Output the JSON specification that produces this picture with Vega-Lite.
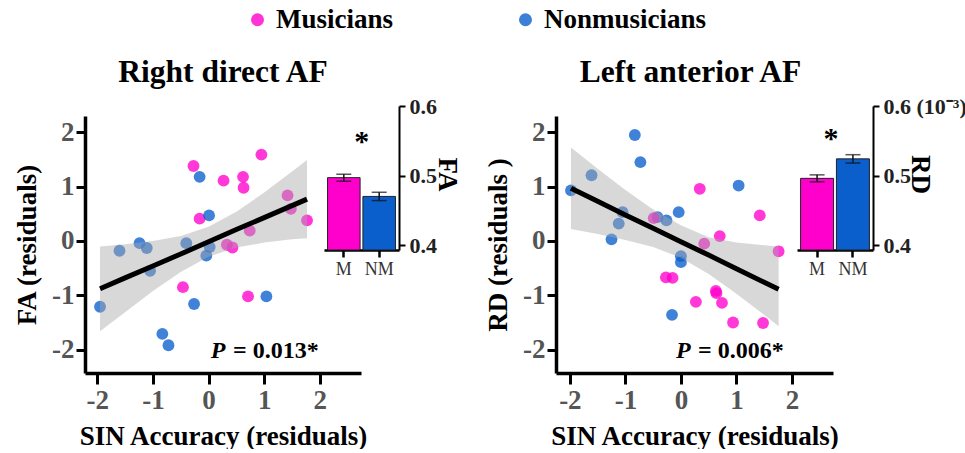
{
  "$schema": "https://vega.github.io/schema/vega-lite/v6.json",
  "background": "white",
  "padding": {"left": 13, "top": 6, "right": 0, "bottom": 0},
  "autosize": {"type": "pad"},
  "config": {
    "font": "Liberation Serif",
    "view": {"stroke": null},
    "axis": {"grid": false, "labelFont": "Liberation Serif", "titleFont": "Liberation Serif"},
    "text": {"font": "Liberation Serif"},
    "title": {"font": "Liberation Serif"}
  },
  "datasets": {
    "pts1": [
      {"x": -0.27, "y": 1.38, "group": "Musicians"},
      {"x": 0.27, "y": 1.11, "group": "Musicians"},
      {"x": 0.62, "y": 1.18, "group": "Musicians"},
      {"x": 0.63, "y": 0.98, "group": "Musicians"},
      {"x": 0.95, "y": 1.59, "group": "Musicians"},
      {"x": 1.42, "y": 0.84, "group": "Musicians"},
      {"x": 1.48, "y": 0.59, "group": "Musicians"},
      {"x": 1.77, "y": 0.38, "group": "Musicians"},
      {"x": -0.16, "y": 0.41, "group": "Musicians"},
      {"x": 0.74, "y": 0.19, "group": "Musicians"},
      {"x": 0.33, "y": -0.07, "group": "Musicians"},
      {"x": 0.43, "y": -0.12, "group": "Musicians"},
      {"x": -0.46, "y": -0.85, "group": "Musicians"},
      {"x": 0.71, "y": -1.02, "group": "Musicians"},
      {"x": -1.95, "y": -1.21, "group": "Nonmusicians"},
      {"x": -1.6, "y": -0.18, "group": "Nonmusicians"},
      {"x": -1.24, "y": -0.04, "group": "Nonmusicians"},
      {"x": -1.11, "y": -0.13, "group": "Nonmusicians"},
      {"x": -1.05, "y": -0.55, "group": "Nonmusicians"},
      {"x": -0.4, "y": -0.04, "group": "Nonmusicians"},
      {"x": -0.16, "y": 1.18, "group": "Nonmusicians"},
      {"x": 0.01, "y": 0.47, "group": "Nonmusicians"},
      {"x": 0.02, "y": -0.11, "group": "Nonmusicians"},
      {"x": -0.04, "y": -0.27, "group": "Nonmusicians"},
      {"x": -0.26, "y": -1.16, "group": "Nonmusicians"},
      {"x": -0.83, "y": -1.71, "group": "Nonmusicians"},
      {"x": -0.72, "y": -1.92, "group": "Nonmusicians"},
      {"x": 1.04, "y": -1.02, "group": "Nonmusicians"}
    ],
    "pts2": [
      {"x": -1.98, "y": 0.93, "group": "Nonmusicians"},
      {"x": -1.61, "y": 1.21, "group": "Nonmusicians"},
      {"x": -0.83, "y": 1.95, "group": "Nonmusicians"},
      {"x": -0.73, "y": 1.45, "group": "Nonmusicians"},
      {"x": -1.05, "y": 0.53, "group": "Nonmusicians"},
      {"x": -1.12, "y": 0.32, "group": "Nonmusicians"},
      {"x": -1.25, "y": 0.03, "group": "Nonmusicians"},
      {"x": -0.42, "y": 0.44, "group": "Nonmusicians"},
      {"x": -0.26, "y": 0.38, "group": "Nonmusicians"},
      {"x": -0.04, "y": 0.53, "group": "Nonmusicians"},
      {"x": 0.0, "y": -0.28, "group": "Nonmusicians"},
      {"x": 0.0, "y": -0.39, "group": "Nonmusicians"},
      {"x": -0.16, "y": -1.36, "group": "Nonmusicians"},
      {"x": 1.04, "y": 1.02, "group": "Nonmusicians"},
      {"x": -0.49, "y": 0.42, "group": "Musicians"},
      {"x": 0.34, "y": 0.96, "group": "Musicians"},
      {"x": 0.42, "y": -0.05, "group": "Musicians"},
      {"x": 0.7, "y": 0.09, "group": "Musicians"},
      {"x": 1.42, "y": 0.47, "group": "Musicians"},
      {"x": 1.76, "y": -0.19, "group": "Musicians"},
      {"x": -0.27, "y": -0.67, "group": "Musicians"},
      {"x": -0.15, "y": -0.68, "group": "Musicians"},
      {"x": 0.27, "y": -1.12, "group": "Musicians"},
      {"x": 0.63, "y": -0.92, "group": "Musicians"},
      {"x": 0.64, "y": -0.96, "group": "Musicians"},
      {"x": 0.74, "y": -1.14, "group": "Musicians"},
      {"x": 0.94, "y": -1.5, "group": "Musicians"},
      {"x": 1.48, "y": -1.51, "group": "Musicians"}
    ],
    "band1": [
      {"x": -1.95, "fit": -0.88, "lo": -1.66, "hi": -0.1},
      {"x": -1.5, "fit": -0.68, "lo": -1.31, "hi": -0.06},
      {"x": -1.0, "fit": -0.46, "lo": -0.92, "hi": 0.0},
      {"x": -0.5, "fit": -0.24, "lo": -0.57, "hi": 0.09},
      {"x": 0.0, "fit": -0.015, "lo": -0.29, "hi": 0.26},
      {"x": 0.5, "fit": 0.21, "lo": -0.12, "hi": 0.54},
      {"x": 1.0, "fit": 0.43, "lo": -0.03, "hi": 0.89},
      {"x": 1.5, "fit": 0.65, "lo": 0.03, "hi": 1.28},
      {"x": 1.77, "fit": 0.77, "lo": 0.05, "hi": 1.49}
    ],
    "band2": [
      {"x": -1.98, "fit": 0.97, "lo": 0.22, "hi": 1.72},
      {"x": -1.5, "fit": 0.73, "lo": 0.13, "hi": 1.33},
      {"x": -1.0, "fit": 0.48, "lo": 0.02, "hi": 0.94},
      {"x": -0.5, "fit": 0.235, "lo": -0.11, "hi": 0.58},
      {"x": 0.0, "fit": -0.014, "lo": -0.31, "hi": 0.29},
      {"x": 0.5, "fit": -0.26, "lo": -0.61, "hi": 0.07},
      {"x": 1.0, "fit": -0.51, "lo": -0.97, "hi": -0.03},
      {"x": 1.5, "fit": -0.76, "lo": -1.36, "hi": -0.08},
      {"x": 1.76, "fit": -0.89, "lo": -1.57, "hi": -0.1}
    ],
    "bars1": [
      {"group": "Musicians", "mean": 0.497, "lo": 0.492, "hi": 0.502},
      {"group": "Nonmusicians", "mean": 0.47, "lo": 0.464, "hi": 0.476}
    ],
    "bars2": [
      {"group": "Musicians", "mean": 0.496, "lo": 0.491, "hi": 0.501},
      {"group": "Nonmusicians", "mean": 0.524, "lo": 0.518, "hi": 0.53}
    ]
  },
  "bounds": "flush",
  "spacing": 157,
  "hconcat": [
    {
      "width": 314,
      "height": 257,
      "title": {"text": "Right direct AF", "fontSize": 31.5, "fontWeight": "bold", "color": "black", "frame": "group", "anchor": "middle", "dx": -19, "dy": 45, "offset": 27, "baseline": "alphabetic"},
      "layer": [
        {
          "layer": [
            {
              "data": {"name": "pts1"},
              "mark": {"type": "circle", "size": 140, "opacity": 0.78},
              "encoding": {
                "x": {"field": "x", "type": "quantitative",
                  "scale": {"domain": [-2.22, 2.74], "range": [0, 276], "nice": false, "zero": false},
                  "axis": {"orient": "bottom", "values": [-2, -1, 0, 1, 2], "labelExpr": "'' + datum.value", "title": "SIN Accuracy (residuals)", "titleFontSize": 27, "titleFontWeight": "bold", "titleColor": "black", "titlePadding": 10,
                    "labelFontSize": 27, "labelFontWeight": "bold", "labelColor": "#555555", "labelPadding": 3, "labelFlush": false, "labelOverlap": false,
                    "tickSize": 11, "tickWidth": 3, "tickColor": "black", "domainWidth": 3.5, "domainColor": "black"}},
                "y": {"field": "y", "type": "quantitative",
                  "scale": {"domain": [-2.43, 2.3], "nice": false, "zero": false},
                  "axis": {"orient": "left", "values": [-2, -1, 0, 1, 2], "labelExpr": "'' + datum.value", "title": "FA (residuals)", "titleFontSize": 27, "titleFontWeight": "bold", "titleColor": "black", "titlePadding": 10,
                    "labelFontSize": 27, "labelFontWeight": "bold", "labelColor": "#555555", "labelPadding": 2, "labelFlush": false, "labelOverlap": false,
                    "tickSize": 9, "tickWidth": 3, "tickColor": "black", "domainWidth": 3.5, "domainColor": "black"}},
                "color": {"field": "group", "type": "nominal",
                  "scale": {"domain": ["Musicians", "Nonmusicians"], "range": ["#FF00CC", "#0A5FCC"]},
                  "legend": {"orient": "none", "legendX": 159, "legendY": -110, "direction": "horizontal", "title": null,
                    "symbolType": "circle", "symbolSize": 170, "symbolOpacity": 0.8, "symbolStrokeWidth": 0,
                    "labelFontSize": 27, "labelFontWeight": "bold", "labelColor": "black", "labelFont": "Liberation Serif", "labelOffset": 5, "labelLimit": 400, "columnPadding": 118}}
              }
            },
            {
              "data": {"name": "band1"},
              "mark": {"type": "area", "color": "#a8a8a8", "opacity": 0.45},
              "encoding": {
                "x": {"field": "x", "type": "quantitative"},
                "y": {"field": "lo", "type": "quantitative"},
                "y2": {"field": "hi"}
              }
            },
            {
              "data": {"name": "band1"},
              "mark": {"type": "line", "color": "black", "strokeWidth": 5},
              "encoding": {
                "x": {"field": "x", "type": "quantitative"},
                "y": {"field": "fit", "type": "quantitative"}
              }
            },
            {
              "data": {"values": [{"t": "P"}]},
              "mark": {"type": "text", "fontSize": 24, "fontWeight": "bold", "fontStyle": "italic", "align": "left", "baseline": "alphabetic", "color": "black"},
              "encoding": {
                "x": {"datum": 0.04, "type": "quantitative"},
                "y": {"datum": -2.15, "type": "quantitative"},
                "text": {"field": "t"}
              }
            },
            {
              "data": {"values": [{"t": "= 0.013*"}]},
              "mark": {"type": "text", "fontSize": 24, "fontWeight": "bold", "align": "left", "baseline": "alphabetic", "color": "black"},
              "encoding": {
                "x": {"datum": 0.44, "type": "quantitative"},
                "y": {"datum": -2.15, "type": "quantitative"},
                "text": {"field": "t"}
              }
            }
          ]
        },
        {
          "layer": [
            {
              "data": {"name": "bars1"},
              "mark": {"type": "bar", "stroke": "#222222", "strokeWidth": 1},
              "encoding": {
                "x": {"field": "group", "type": "nominal",
                  "scale": {"range": [239, 314], "paddingInner": 0.08, "paddingOuter": 0.1},
                  "axis": {"orient": "bottom", "offset": -123, "title": null, "labelAngle": 0, "labelExpr": "datum.value == 'Musicians' ? 'M' : 'NM'",
                    "labelFontSize": 18, "labelFontWeight": "normal", "labelColor": "#333333", "labelPadding": 3,
                    "tickSize": 7, "tickWidth": 2.5, "tickColor": "black", "domainWidth": 2.5, "domainColor": "black"}},
                "y": {"field": "mean", "type": "quantitative",
                  "scale": {"domain": [0.393, 0.6], "range": [134, -10], "nice": false, "zero": false},
                  "axis": {"orient": "right", "values": [0.4, 0.5, 0.6], "format": ".1f", "title": "FA", "titleFontSize": 27, "titleFontWeight": "bold", "titleColor": "black",
                    "titleX": 47, "titleY": 58, "titleAngle": 90, "titleAlign": "center", "titleBaseline": "middle",
                    "labelFontSize": 22, "labelFontWeight": "bold", "labelColor": "#222222", "labelPadding": 4, "labelFlush": false, "labelOverlap": false,
                    "tickSize": 6, "tickWidth": 2, "tickColor": "black", "domainWidth": 2, "domainColor": "black"}},
                "y2": {"datum": 0.393},
                "color": {"field": "group", "type": "nominal"}
              }
            },
            {
              "data": {"name": "bars1"},
              "mark": {"type": "rule", "color": "#111111", "strokeWidth": 1.5},
              "encoding": {
                "x": {"field": "group", "type": "nominal"},
                "y": {"field": "lo", "type": "quantitative"},
                "y2": {"field": "hi"}
              }
            },
            {
              "data": {"name": "bars1"},
              "mark": {"type": "tick", "color": "#111111", "thickness": 1.5, "size": 15},
              "encoding": {
                "x": {"field": "group", "type": "nominal"},
                "y": {"field": "hi", "type": "quantitative"}
              }
            },
            {
              "data": {"name": "bars1"},
              "mark": {"type": "tick", "color": "#111111", "thickness": 1.5, "size": 15},
              "encoding": {
                "x": {"field": "group", "type": "nominal"},
                "y": {"field": "lo", "type": "quantitative"}
              }
            },
            {
              "data": {"values": [{"t": "*"}]},
              "mark": {"type": "text", "fontSize": 30, "fontWeight": "bold", "align": "center", "baseline": "alphabetic", "dx": 18, "color": "black"},
              "encoding": {
                "x": {"datum": "Musicians", "type": "nominal"},
                "y": {"datum": 0.535, "type": "quantitative"},
                "text": {"field": "t"}
              }
            }
          ]
        }
      ],
      "resolve": {"scale": {"x": "independent", "y": "independent"}, "axis": {"x": "independent", "y": "independent"}}
    },
    {
      "width": 317,
      "height": 257,
      "title": {"text": "Left anterior AF", "fontSize": 31.5, "fontWeight": "bold", "color": "black", "frame": "group", "anchor": "middle", "dx": -24, "dy": 45, "offset": 27, "baseline": "alphabetic"},
      "layer": [
        {
          "layer": [
            {
              "data": {"name": "pts2"},
              "mark": {"type": "circle", "size": 140, "opacity": 0.78},
              "encoding": {
                "x": {"field": "x", "type": "quantitative",
                  "scale": {"domain": [-2.25, 2.74], "range": [0, 277], "nice": false, "zero": false},
                  "axis": {"orient": "bottom", "values": [-2, -1, 0, 1, 2], "labelExpr": "'' + datum.value", "title": "SIN Accuracy (residuals)", "titleFontSize": 27, "titleFontWeight": "bold", "titleColor": "black", "titlePadding": 10,
                    "labelFontSize": 27, "labelFontWeight": "bold", "labelColor": "#555555", "labelPadding": 3, "labelFlush": false, "labelOverlap": false,
                    "tickSize": 11, "tickWidth": 3, "tickColor": "black", "domainWidth": 3.5, "domainColor": "black"}},
                "y": {"field": "y", "type": "quantitative",
                  "scale": {"domain": [-2.43, 2.3], "nice": false, "zero": false},
                  "axis": {"orient": "left", "values": [-2, -1, 0, 1, 2], "labelExpr": "'' + datum.value", "title": "RD (residuals )", "titleFontSize": 27, "titleFontWeight": "bold", "titleColor": "black", "titlePadding": 10,
                    "labelFontSize": 27, "labelFontWeight": "bold", "labelColor": "#555555", "labelPadding": 2, "labelFlush": false, "labelOverlap": false,
                    "tickSize": 9, "tickWidth": 3, "tickColor": "black", "domainWidth": 3.5, "domainColor": "black"}},
                "color": {"field": "group", "type": "nominal"}
              }
            },
            {
              "data": {"name": "band2"},
              "mark": {"type": "area", "color": "#a8a8a8", "opacity": 0.45},
              "encoding": {
                "x": {"field": "x", "type": "quantitative"},
                "y": {"field": "lo", "type": "quantitative"},
                "y2": {"field": "hi"}
              }
            },
            {
              "data": {"name": "band2"},
              "mark": {"type": "line", "color": "black", "strokeWidth": 5},
              "encoding": {
                "x": {"field": "x", "type": "quantitative"},
                "y": {"field": "fit", "type": "quantitative"}
              }
            },
            {
              "data": {"values": [{"t": "P"}]},
              "mark": {"type": "text", "fontSize": 24, "fontWeight": "bold", "fontStyle": "italic", "align": "left", "baseline": "alphabetic", "color": "black"},
              "encoding": {
                "x": {"datum": -0.09, "type": "quantitative"},
                "y": {"datum": -2.15, "type": "quantitative"},
                "text": {"field": "t"}
              }
            },
            {
              "data": {"values": [{"t": "= 0.006*"}]},
              "mark": {"type": "text", "fontSize": 24, "fontWeight": "bold", "align": "left", "baseline": "alphabetic", "color": "black"},
              "encoding": {
                "x": {"datum": 0.31, "type": "quantitative"},
                "y": {"datum": -2.15, "type": "quantitative"},
                "text": {"field": "t"}
              }
            }
          ]
        },
        {
          "layer": [
            {
              "data": {"name": "bars2"},
              "mark": {"type": "bar", "stroke": "#222222", "strokeWidth": 1},
              "encoding": {
                "x": {"field": "group", "type": "nominal",
                  "scale": {"range": [241, 317], "paddingInner": 0.08, "paddingOuter": 0.1},
                  "axis": {"orient": "bottom", "offset": -123, "title": null, "labelAngle": 0, "labelExpr": "datum.value == 'Musicians' ? 'M' : 'NM'",
                    "labelFontSize": 18, "labelFontWeight": "normal", "labelColor": "#333333", "labelPadding": 3,
                    "tickSize": 7, "tickWidth": 2.5, "tickColor": "black", "domainWidth": 2.5, "domainColor": "black"}},
                "y": {"field": "mean", "type": "quantitative",
                  "scale": {"domain": [0.393, 0.6], "range": [134, -10], "nice": false, "zero": false},
                  "axis": {"orient": "right", "values": [0.4, 0.5, 0.6], "labelExpr": "datum.value > 0.55 ? '0.6 (10⁻³)' : format(datum.value, '.1f')", "title": "RD", "titleFontSize": 27, "titleFontWeight": "bold", "titleColor": "black",
                    "titleX": 46, "titleY": 58, "titleAngle": 90, "titleAlign": "center", "titleBaseline": "middle",
                    "labelFontSize": 22, "labelFontWeight": "bold", "labelColor": "#222222", "labelPadding": 4, "labelFlush": false, "labelOverlap": false, "labelLimit": 200,
                    "tickSize": 6, "tickWidth": 2, "tickColor": "black", "domainWidth": 2, "domainColor": "black"}},
                "y2": {"datum": 0.393},
                "color": {"field": "group", "type": "nominal"}
              }
            },
            {
              "data": {"name": "bars2"},
              "mark": {"type": "rule", "color": "#111111", "strokeWidth": 1.5},
              "encoding": {
                "x": {"field": "group", "type": "nominal"},
                "y": {"field": "lo", "type": "quantitative"},
                "y2": {"field": "hi"}
              }
            },
            {
              "data": {"name": "bars2"},
              "mark": {"type": "tick", "color": "#111111", "thickness": 1.5, "size": 15},
              "encoding": {
                "x": {"field": "group", "type": "nominal"},
                "y": {"field": "hi", "type": "quantitative"}
              }
            },
            {
              "data": {"name": "bars2"},
              "mark": {"type": "tick", "color": "#111111", "thickness": 1.5, "size": 15},
              "encoding": {
                "x": {"field": "group", "type": "nominal"},
                "y": {"field": "lo", "type": "quantitative"}
              }
            },
            {
              "data": {"values": [{"t": "*"}]},
              "mark": {"type": "text", "fontSize": 30, "fontWeight": "bold", "align": "center", "baseline": "alphabetic", "dx": 14, "color": "black"},
              "encoding": {
                "x": {"datum": "Musicians", "type": "nominal"},
                "y": {"datum": 0.54, "type": "quantitative"},
                "text": {"field": "t"}
              }
            }
          ]
        }
      ],
      "resolve": {"scale": {"x": "independent", "y": "independent"}, "axis": {"x": "independent", "y": "independent"}}
    }
  ]
}
